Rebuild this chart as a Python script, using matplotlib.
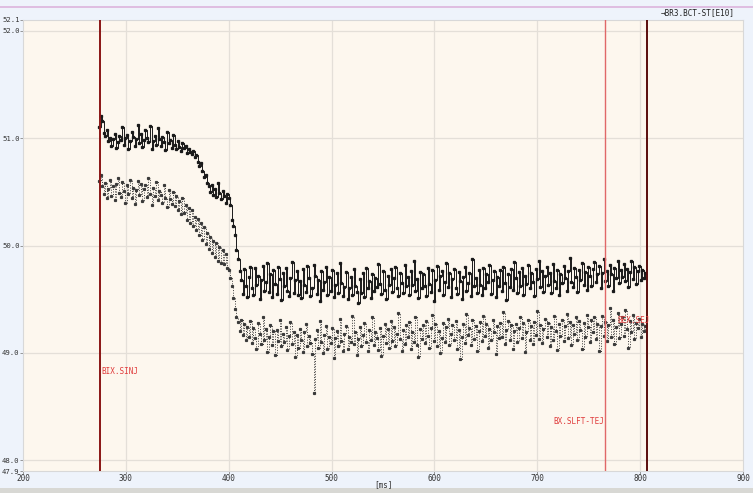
import numpy as np
import matplotlib
matplotlib.use("Agg")
import matplotlib.pyplot as plt
from matplotlib.patches import Rectangle

# sample grid of the trace (ms)
t_start, t_step = 274, 1.5

upper = [
    51.10, 51.21, 51.16, 51.05, 51.02, 51.08, 50.97, 51.00, 50.93, 50.99,
    51.04, 50.91, 50.96, 51.02, 50.98, 51.10, 50.94, 51.00, 51.03, 50.90,
    50.97, 51.06, 51.01, 50.93, 50.99, 51.12, 50.95, 51.04, 50.92, 50.98,
    51.08, 51.00, 50.96, 51.11, 50.90, 50.97, 51.02, 50.94, 51.09, 50.99,
    50.93, 51.01, 50.96, 50.89, 51.06, 50.95, 50.98, 50.91, 51.03, 50.94,
    50.90, 50.97, 50.92, 50.88, 50.95, 50.91, 50.93, 50.86, 50.90, 50.87,
    50.85, 50.88, 50.82, 50.84, 50.78, 50.74, 50.77, 50.69, 50.64, 50.66,
    50.58, 50.55, 50.50, 50.56, 50.47, 50.53, 50.45, 50.58, 50.49, 50.43,
    50.51, 50.46, 50.40, 50.48, 50.44, 50.38, 50.24, 50.18, 50.10, 49.96,
    49.87, 49.76, 49.68, 49.55, 49.78, 49.62, 49.52, 49.71, 49.80, 49.60,
    49.54, 49.79, 49.63, 49.72, 49.50, 49.68, 49.81, 49.58, 49.66, 49.84,
    49.57, 49.73, 49.52, 49.77, 49.64, 49.55, 49.80, 49.69, 49.49, 49.74,
    49.62, 49.79, 49.58, 49.53, 49.70, 49.85, 49.56, 49.68, 49.76, 49.54,
    49.67, 49.51, 49.78, 49.63, 49.57, 49.81, 49.70, 49.53, 49.60, 49.82,
    49.72, 49.55, 49.68, 49.48, 49.76, 49.59, 49.66, 49.80, 49.54, 49.71,
    49.58, 49.77, 49.52, 49.63, 49.74, 49.56, 49.84, 49.65, 49.53, 49.61,
    49.75, 49.50, 49.60, 49.71, 49.54, 49.78, 49.62, 49.57, 49.46, 49.69,
    49.56, 49.74, 49.52, 49.79, 49.60, 49.67, 49.51, 49.73, 49.58, 49.70,
    49.61, 49.83, 49.64, 49.55, 49.76, 49.59, 49.50, 49.72, 49.63, 49.78,
    49.57, 49.70, 49.80, 49.60, 49.53, 49.74, 49.65, 49.56, 49.82, 49.62,
    49.71, 49.54, 49.76, 49.63, 49.86, 49.58, 49.69, 49.51, 49.75, 49.60,
    49.73, 49.62, 49.53, 49.79, 49.64, 49.57, 49.77, 49.48, 49.68, 49.81,
    49.59, 49.72, 49.76, 49.54, 49.66, 49.84, 49.61, 49.74, 49.52, 49.69,
    49.78, 49.60, 49.55, 49.75, 49.67, 49.50, 49.71, 49.80, 49.58, 49.65,
    49.74, 49.53, 49.87, 49.62, 49.70, 49.56, 49.77, 49.63, 49.54, 49.79,
    49.60, 49.73, 49.66, 49.82, 49.55, 49.68, 49.76, 49.52, 49.71, 49.62,
    49.77, 49.58, 49.80, 49.65, 49.49, 49.73, 49.61, 49.78, 49.59, 49.85,
    49.70, 49.56, 49.75, 49.62, 49.79, 49.54, 49.72, 49.64, 49.82, 49.60,
    49.74, 49.66, 49.53, 49.78, 49.69, 49.86, 49.61, 49.76, 49.57, 49.72,
    49.80, 49.63, 49.74, 49.56, 49.83, 49.67, 49.60, 49.77, 49.54, 49.73,
    49.65, 49.81, 49.70, 49.58, 49.76, 49.88, 49.66, 49.61, 49.79, 49.71,
    49.57, 49.77, 49.68, 49.84, 49.63, 49.75, 49.59, 49.80, 49.72, 49.62,
    49.78, 49.85, 49.66, 49.73, 49.81, 49.60, 49.74, 49.87, 49.67, 49.76,
    49.62, 49.82, 49.73, 49.58, 49.79, 49.70, 49.86, 49.65, 49.77, 49.71,
    49.83, 49.67, 49.78, 49.61, 49.75, 49.86, 49.69, 49.80, 49.64, 49.76,
    49.81, 49.68, 49.77, 49.70, 49.74,
]

lower = [
    50.60, 50.66, 50.55, 50.48, 50.58, 50.44, 50.53, 50.61, 50.46, 50.55,
    50.42, 50.57, 50.63, 50.49, 50.45, 50.59, 50.51, 50.40, 50.56, 50.48,
    50.61, 50.44, 50.54, 50.39, 50.52, 50.60, 50.47, 50.57, 50.41, 50.53,
    50.56, 50.45, 50.63, 50.48, 50.38, 50.54, 50.46, 50.59, 50.42, 50.51,
    50.47, 50.40, 50.56, 50.44, 50.36, 50.52, 50.43, 50.39, 50.50, 50.37,
    50.46, 50.33, 50.41, 50.29, 50.44, 50.30, 50.38, 50.24, 50.35, 50.21,
    50.33, 50.18, 50.27, 50.14, 50.25, 50.10, 50.21, 50.05, 50.17, 50.01,
    50.12, 49.97, 50.08, 49.93, 50.04, 49.89, 50.02, 49.86, 49.99, 49.84,
    49.96, 49.83, 49.92, 49.79, 49.77, 49.70, 49.62, 49.51, 49.41, 49.33,
    49.29, 49.20, 49.31, 49.17, 49.27, 49.12, 49.24, 49.15, 49.30, 49.09,
    49.23, 49.14, 49.04, 49.28, 49.18, 49.08, 49.33, 49.12, 49.22, 49.01,
    49.15, 49.26, 49.07, 49.20, 48.98, 49.21, 49.11, 49.31, 49.06, 49.18,
    49.10, 49.24, 49.03, 49.16, 49.29, 49.08, 49.19, 48.96, 49.17, 49.05,
    49.22, 49.12, 49.01, 49.19, 49.27, 49.06, 49.16, 49.09, 48.99, 48.63,
    49.13, 49.21, 49.05, 49.30, 49.10, 49.00, 49.17, 49.25, 49.04, 49.15,
    49.09, 49.23, 48.95, 49.14, 49.20, 49.06, 49.32, 49.11, 49.02, 49.18,
    49.25, 49.04, 49.15, 49.10, 49.34, 49.08, 49.19, 48.98, 49.13, 49.24,
    49.06, 49.17, 49.28, 49.10, 49.02, 49.21, 49.12, 49.33, 49.07, 49.19,
    49.14, 49.03, 49.23, 48.97, 49.16, 49.27, 49.09, 49.22, 49.05, 49.30,
    49.11, 49.24, 49.06, 49.18, 49.37, 49.13, 49.02, 49.21, 49.08, 49.26,
    49.15, 49.29, 49.04, 49.19, 49.10, 49.33, 49.07, 48.96, 49.22, 49.13,
    49.26, 49.09, 49.30, 49.16, 49.05, 49.23, 49.35, 49.11, 49.27, 49.06,
    49.20, 49.00, 49.14, 49.28, 49.10, 49.24, 49.32, 49.07, 49.18, 49.26,
    49.12, 49.30, 49.04, 49.21, 48.94, 49.15, 49.27, 49.09, 49.36, 49.17,
    49.23, 49.07, 49.31, 49.13, 49.25, 49.02, 49.20, 49.29, 49.11, 49.34,
    49.16, 49.27, 49.05, 49.22, 49.12, 49.31, 49.19, 48.99, 49.25, 49.14,
    49.28, 49.15, 49.38, 49.08, 49.21, 49.30, 49.12, 49.26, 49.04, 49.20,
    49.27, 49.10, 49.23, 49.33, 49.14, 49.28, 49.01, 49.19, 49.31, 49.12,
    49.25, 49.08, 49.29, 49.17, 49.39, 49.13, 49.26, 49.09, 49.22, 49.32,
    49.15, 49.28, 49.06, 49.24, 49.12, 49.34, 49.20, 49.03, 49.27, 49.16,
    49.31, 49.11, 49.25, 49.36, 49.14, 49.29, 49.07, 49.26, 49.18, 49.33,
    49.12, 49.30, 49.21, 49.04, 49.28, 49.15, 49.35, 49.24, 49.10, 49.31,
    49.19, 49.33, 49.13, 49.27, 49.02, 49.25, 49.34, 49.16, 49.29, 49.11,
    49.26, 49.42, 49.15, 49.31, 49.08, 49.24, 49.37, 49.14, 49.27, 49.33,
    49.16, 49.40, 49.22, 49.05, 49.30, 49.19, 49.35, 49.13, 49.28, 49.23,
    49.32, 49.15, 49.27, 49.20, 49.25,
]

t = t_start + t_step * np.arange(len(upper))

# timing event lines (ms)
events = [275, 766, 807]
event_colors = ["#8a1515", "#e06868", "#5a0c0c"]
event_widths = [1.4, 1.0, 1.4]

x_ticks = [200, 300, 400, 500, 600, 700, 800, 900]
y_ticks = [47.9, 48.0, 49.0, 50.0, 51.0, 52.0, 52.1]
grid_y = [48.0, 49.0, 50.0, 51.0, 52.0]

mono = "DejaVu Sans Mono"
W, H = 753, 493

fig = plt.figure(figsize=(W / 100, H / 100), dpi=100, facecolor="#eef3fb")
ax = fig.add_axes([23 / W, 1 - 471 / H, (743 - 23) / W, (471 - 20) / H])
ax.set_facecolor("#fdf7ee")

ax.set_xlim(200, 900)
ax.set_ylim(47.9, 52.1)

for gx in x_ticks[1:-1]:
    ax.axvline(gx, color="#e4dfd8", lw=0.9, zorder=0)
for gy in grid_y:
    ax.axhline(gy, color="#e4dfd8", lw=0.9, zorder=0)

ax.plot(t, upper, drawstyle="steps-post", color="#1a1a1a", lw=0.7,
        marker="s", ms=1.4, zorder=3)
ax.plot(t, lower, drawstyle="steps-post", color="#3a3a3a", lw=0.7, ls=":",
        marker="s", ms=1.3, zorder=3)

for ev, c, w in zip(events, event_colors, event_widths):
    ax.axvline(ev, color=c, lw=w, zorder=4)

lab_kw = dict(color="#e03c3c", fontsize=5.5, family=mono, zorder=5)
ax.text(276, 48.83, "BIX.SINJ", ha="left", va="center", **lab_kw)
ax.text(765, 48.36, "BX.SLFT-TEJ", ha="right", va="center", **lab_kw)
txt = ax.text(778, 49.30, "BEX.SEJ", ha="left", va="center", **lab_kw)
clip = Rectangle((766, 47.9), 41, 4.2, transform=ax.transData, visible=False)
ax.add_patch(clip)
txt.set_clip_path(clip)

ax.set_xticks(x_ticks)
ax.set_yticks(y_ticks)
ax.set_xticklabels([str(v) for v in x_ticks], family=mono, fontsize=5.5)
ax.set_yticklabels(["%.1f" % v for v in y_ticks], family=mono, fontsize=5.2)
ax.tick_params(axis="both", length=2, width=0.6, color="#888888",
               labelcolor="#333333", pad=0.5)
for s in ax.spines.values():
    s.set_color("#d8d8d8")
    s.set_linewidth(0.8)

fig.text(383 / W, 1 - 485 / H, "[ms]", ha="center", va="center",
         family=mono, fontsize=5.5, color="#333333")
fig.text(735 / W, 1 - 13 / H, "\u2192BR3.BCT-ST[E10]", ha="right",
         va="center", family=mono, fontsize=5.5, color="#222222")

# window chrome: top rule and bottom status strip
fig.add_artist(plt.Line2D([0, 1], [1 - 7 / H, 1 - 7 / H], color="#dcb4dc",
                          lw=1.2, transform=fig.transFigure))
fig.add_artist(Rectangle((0, 0), 1, 5 / H, transform=fig.transFigure,
                         color="#d8d8d4", lw=0))

fig.savefig("out.png", dpi=100, facecolor=fig.get_facecolor())
